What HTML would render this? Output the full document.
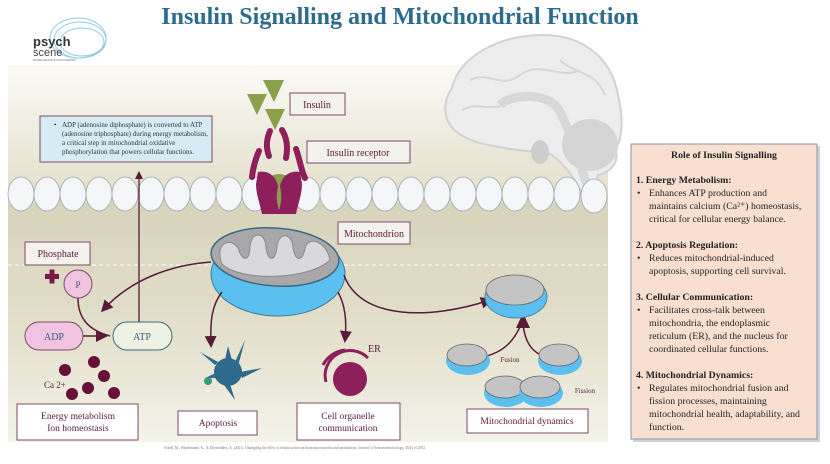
<!DOCTYPE html>
<html><head><meta charset="utf-8"><style>
html,body{margin:0;padding:0;background:#fff;}
body{width:830px;height:459px;overflow:hidden;font-family:"Liberation Serif",serif;}
</style></head><body>
<svg width="830" height="459" viewBox="0 0 830 459" xmlns="http://www.w3.org/2000/svg" font-family="Liberation Serif, serif">
<defs>
<linearGradient id="bg" x1="0" y1="0" x2="0" y2="1">
<stop offset="0" stop-color="#fbfaf6"/><stop offset="0.3" stop-color="#e6e3d0"/><stop offset="0.4" stop-color="#d9d5bd"/><stop offset="0.7" stop-color="#e2dfca"/><stop offset="1" stop-color="#f4f3ea"/>
</linearGradient>
<marker id="ah" markerWidth="8" markerHeight="8" refX="6" refY="4" orient="auto" markerUnits="userSpaceOnUse"><path d="M0,0 L8,4 L0,8 z" fill="#5a1a3a"/></marker>
<marker id="ahb" markerWidth="12" markerHeight="12" refX="9" refY="6" orient="auto" markerUnits="userSpaceOnUse"><path d="M0,0 L12,6 L0,12 z" fill="#5a1a3a"/></marker>
</defs>
<text x="400" y="24" text-anchor="middle" font-size="24" font-weight="bold" fill="#2d6b8d">Insulin Signalling and Mitochondrial Function</text>
<!-- logo -->
<g fill="none" stroke="#8fcbe6" stroke-width="1">
<ellipse cx="80" cy="40" rx="26" ry="18"/><ellipse cx="82" cy="42" rx="22" ry="14"/><ellipse cx="78" cy="38" rx="28" ry="20"/>
</g>
<text x="33" y="46" font-family="Liberation Sans, sans-serif" font-size="13" font-weight="bold" fill="#333">psych</text>
<text x="33" y="56" font-family="Liberation Sans, sans-serif" font-size="11" fill="#444">scene</text>
<text x="33" y="61" font-family="Liberation Sans, sans-serif" font-size="3" fill="#666">EXCELLENCE IN PSYCHIATRY</text>
<!-- panel -->
<rect x="8" y="65" width="600" height="377" fill="url(#bg)"/>
<rect x="8" y="195" width="600" height="40" fill="#d9d5bd"/>
<!-- brain -->
<g>
<path d="M452,88 C460,55 500,36 540,35 C585,34 612,60 618,95 C624,120 622,140 615,150 C620,160 612,172 598,175 L592,194 L582,194 C575,178 565,165 552,155 C540,150 520,152 505,148 C485,145 460,140 450,125 C442,112 445,98 452,88 Z" fill="#ededed" stroke="#d2d2d2" stroke-width="2"/>
<g fill="none" stroke="#d6d6d6" stroke-width="2">
<path d="M470,80 C490,70 500,90 520,75 C540,60 560,80 580,70"/>
<path d="M462,110 C480,100 495,115 510,100"/>
<path d="M560,60 C575,75 595,70 605,95"/>
</g>
<path d="M500,105 C510,95 540,92 555,105 C565,115 575,150 588,188" fill="none" stroke="#d8d8d8" stroke-width="9"/>
<ellipse cx="590" cy="145" rx="28" ry="26" fill="#d4d4d4"/>
<ellipse cx="540" cy="152" rx="9" ry="12" fill="#cdcdcd"/>
</g>
<!-- membrane -->
<g fill="#f4f6f7" stroke="#9aa8ae" stroke-width="0.8">
<ellipse cx="21" cy="194" rx="13" ry="17"/><ellipse cx="47" cy="194" rx="13" ry="17"/><ellipse cx="73" cy="194" rx="13" ry="17"/><ellipse cx="99" cy="194" rx="13" ry="17"/><ellipse cx="125" cy="194" rx="13" ry="17"/><ellipse cx="151" cy="194" rx="13" ry="17"/><ellipse cx="177" cy="194" rx="13" ry="17"/><ellipse cx="203" cy="194" rx="13" ry="17"/><ellipse cx="229" cy="194" rx="13" ry="17"/><ellipse cx="255" cy="194" rx="13" ry="17"/><ellipse cx="281" cy="194" rx="13" ry="17"/><ellipse cx="307" cy="194" rx="13" ry="17"/><ellipse cx="333" cy="194" rx="13" ry="17"/><ellipse cx="359" cy="194" rx="13" ry="17"/><ellipse cx="385" cy="194" rx="13" ry="17"/><ellipse cx="411" cy="194" rx="13" ry="17"/><ellipse cx="437" cy="194" rx="13" ry="17"/><ellipse cx="463" cy="194" rx="13" ry="17"/><ellipse cx="489" cy="194" rx="13" ry="17"/><ellipse cx="515" cy="194" rx="13" ry="17"/><ellipse cx="541" cy="194" rx="13" ry="17"/><ellipse cx="567" cy="194" rx="13" ry="17"/><ellipse cx="594" cy="196" rx="13" ry="17"/>
</g>
<line x1="8" y1="265" x2="608" y2="265" stroke="#fff" stroke-width="1" stroke-dasharray="4,3"/>
<!-- insulin & receptor -->
<g fill="#8ba04a">
<polygon points="263,80 284,80 274,102"/><polygon points="247,94 267,94 257,115"/><polygon points="265,109 285,109 275,130"/>
<circle cx="279" cy="191" r="17"/>
</g>
<g fill="none" stroke="#8c1f5c" stroke-width="6" stroke-linecap="round">
<path d="M270,131 C266,140 266,148 269,156"/>
<path d="M282,130 C287,138 288,148 286,158"/>
<path d="M259,151 C255,160 253,168 252,177"/>
<path d="M296,149 C300,160 301,170 305,178"/>
</g>
<g fill="#8c1f5c">
<path d="M258,172 C268,170 276,176 278,186 C276,196 276,204 281,214 L262,214 C260,204 256,194 256,184 Z"/>
<path d="M300,172 C290,170 282,176 280,186 C282,196 282,204 277,214 L296,214 C298,204 302,194 302,184 Z"/>
</g>
<!-- label boxes -->
<g fill="#f4f2ec" stroke="#7d4a66" stroke-width="1">
<rect x="290" y="93" width="55" height="22"/><rect x="307" y="141" width="103" height="22"/><rect x="338" y="222" width="72" height="22"/><rect x="25" y="242" width="65" height="23"/>
</g>
<g font-size="10" fill="#5a1a3a" text-anchor="middle">
<text x="317" y="108">Insulin</text><text x="358" y="156">Insulin receptor</text><text x="374" y="237">Mitochondrion</text><text x="58" y="257">Phosphate</text>
</g>
<!-- info box -->
<rect x="40" y="116" width="172" height="46" fill="#d5ecf4" stroke="#7d4a66" stroke-width="1"/>
<g font-size="7" fill="#333">
<text x="54" y="127">•</text>
<text x="62" y="127">ADP (adenosine diphosphate) is converted to ATP</text>
<text x="62" y="136">(adenosine triphosphate) during energy metabolism,</text>
<text x="62" y="145">a critical step in mitochondrial oxidative</text>
<text x="62" y="154">phosphorylation that powers cellular functions.</text>
</g>
<line x1="139" y1="322" x2="139" y2="173" stroke="#5a1a3a" stroke-width="1.3" marker-end="url(#ah)"/>
<!-- big mito -->
<ellipse cx="278" cy="274" rx="67" ry="42" fill="#5bc0ef" stroke="#3d7a95" stroke-width="1"/>
<ellipse cx="275" cy="257" rx="64" ry="29" fill="#a8a8aa" stroke="#3d6a80" stroke-width="1.5" transform="rotate(4 275 257)"/>
<path d="M222,264 C214,244 230,236 238,248 C242,262 250,262 250,246 C252,230 266,232 266,248 C268,262 276,262 277,246 C279,232 292,232 293,248 C295,262 303,262 305,248 C308,236 326,240 330,260 C310,280 240,282 222,264 Z" fill="#d9d9db" stroke="#8a8a8a" stroke-width="1"/>
<!-- arrows from mito -->
<g fill="none" stroke="#5a1a3a" stroke-width="1.5">
<path d="M211,262 C170,265 130,280 103,310" marker-end="url(#ahb)"/>
<path d="M222,292 C212,305 210,320 211,345" marker-end="url(#ahb)"/>
<path d="M338,292 C345,305 347,320 345,340" marker-end="url(#ahb)"/>
<path d="M344,275 C360,320 430,320 490,300" marker-end="url(#ahb)"/>
<path d="M78,298 C78,318 88,330 110,336"/>
<path d="M83,336 L105,336" marker-end="url(#ahb)"/>
<path d="M483,357 C505,352 515,340 523,320"/>
<path d="M546,357 C530,352 525,340 523,325"/>
</g>
<polygon points="516,328 523,313 530,328" fill="#5a1a3a"/>
<!-- phosphate -->
<rect x="45" y="274" width="14" height="5" fill="#7a1a4a"/><rect x="49.5" y="269.5" width="5" height="14" fill="#7a1a4a"/>
<circle cx="78" cy="284" r="14" fill="#f0c4e0" stroke="#7d4a66"/>
<text x="78" y="288" font-size="9" text-anchor="middle" fill="#4a4a7a">P</text>
<rect x="25" y="322" width="58" height="28" rx="14" fill="#f0c4e0" stroke="#7d4a66"/>
<text x="54" y="340" font-size="10" text-anchor="middle" fill="#3a5a7a">ADP</text>
<rect x="113" y="322" width="59" height="28" rx="14" fill="#eef2e2" stroke="#3d6a7a"/>
<text x="142" y="340" font-size="10" text-anchor="middle" fill="#3a5a7a">ATP</text>
<!-- Ca -->
<g fill="#6a1038">
<circle cx="65" cy="370" r="6"/><circle cx="94" cy="362" r="6"/><circle cx="104" cy="376" r="6"/><circle cx="88" cy="388" r="6"/><circle cx="72" cy="394" r="6"/><circle cx="114" cy="393" r="6"/>
</g>
<text x="44" y="388" font-size="9" fill="#5a1a3a">Ca 2+</text>
<!-- apoptosis cell -->
<g fill="#2d6a8c">
<circle cx="228" cy="372" r="14"/>
<path d="M215,365 L200,352 L218,362 Z M235,362 L245,340 L238,366 Z M240,372 L262,368 L242,378 Z M230,384 L235,400 L224,385 Z M218,378 L205,378 L218,372 Z M225,360 L228,346 L232,360 Z"/>
</g>
<circle cx="208" cy="381" r="4" fill="#3a9a7a"/>
<!-- ER -->
<circle cx="350" cy="379" r="17" fill="#8c1f5c"/>
<path d="M326,382 A25,25 0 0 1 368,358" fill="none" stroke="#8c1f5c" stroke-width="3"/>
<path d="M323,365 A28,28 0 0 1 345,350" fill="none" stroke="#8c1f5c" stroke-width="3"/>
<text x="368" y="352" font-size="10" fill="#5a1a3a">ER</text>
<!-- small mitos -->
<g stroke-width="0.8">
<ellipse cx="516" cy="297" rx="31" ry="21" fill="#5bc0ef" stroke="#3d7a95"/><ellipse cx="515" cy="290" rx="29" ry="15" fill="#c4c4c4" stroke="#666"/>
<ellipse cx="468" cy="361" rx="22" ry="14" fill="#5bc0ef"/><ellipse cx="467" cy="355" rx="20" ry="11" fill="#c4c4c4" stroke="#666"/>
<ellipse cx="560" cy="361" rx="22" ry="14" fill="#5bc0ef"/><ellipse cx="559" cy="355" rx="20" ry="11" fill="#c4c4c4" stroke="#666"/>
<ellipse cx="506" cy="393" rx="22" ry="14" fill="#5bc0ef"/><ellipse cx="505" cy="387" rx="20" ry="11" fill="#c4c4c4" stroke="#666"/>
<ellipse cx="541" cy="393" rx="22" ry="14" fill="#5bc0ef"/><ellipse cx="540" cy="387" rx="20" ry="11" fill="#c4c4c4" stroke="#666"/>
</g>
<text x="510" y="362" font-size="7" text-anchor="middle" fill="#5a1a3a">Fusion</text>
<text x="585" y="393" font-size="7" text-anchor="middle" fill="#5a1a3a">Fission</text>
<!-- bottom boxes -->
<g fill="#fff" stroke="#7d4a66" stroke-width="1">
<rect x="17" y="404" width="121" height="36"/><rect x="178" y="411" width="79" height="24"/><rect x="297" y="403" width="103" height="37"/><rect x="467" y="409" width="121" height="24"/>
</g>
<g font-size="9.5" fill="#5a1a3a" text-anchor="middle">
<text x="78" y="419">Energy metabolism</text><text x="78" y="431">Ion homeostasis</text>
<text x="218" y="426">Apoptosis</text>
<text x="348" y="419">Cell organelle</text><text x="348" y="431">communication</text>
<text x="527" y="424">Mitochondrial dynamics</text>
</g>
<text x="295" y="449" font-size="3.6" text-anchor="middle" fill="#777">Schell, M., Wardelmann, K., &amp; Kleinridders, A. (2021). Untangling the effect of insulin action on brain mitochondria and metabolism. Journal of Neuroendocrinology, 33(4), e12932.</text>
<!-- right box -->
<rect x="633" y="146" width="187" height="296" fill="#a0a8b0" opacity="0.5"/>
<rect x="631" y="144" width="186" height="295" fill="#f9dfd0" stroke="#8a96a4" stroke-width="1"/>
<g font-size="9.8" fill="#222">
<text x="724" y="158" text-anchor="middle" font-weight="bold">Role of Insulin Signalling</text>
<text x="636" y="183" font-weight="bold">1. Energy Metabolism:</text>
<text x="637" y="196">•</text><text x="649" y="196">Enhances ATP production and</text>
<text x="649" y="209">maintains calcium (Ca²⁺) homeostasis,</text>
<text x="649" y="222">critical for cellular energy balance.</text>
<text x="636" y="248" font-weight="bold">2. Apoptosis Regulation:</text>
<text x="637" y="261">•</text><text x="649" y="261">Reduces mitochondrial-induced</text>
<text x="649" y="274">apoptosis, supporting cell survival.</text>
<text x="636" y="300" font-weight="bold">3. Cellular Communication:</text>
<text x="637" y="313">•</text><text x="649" y="313">Facilitates cross-talk between</text>
<text x="649" y="326">mitochondria, the endoplasmic</text>
<text x="649" y="339">reticulum (ER), and the nucleus for</text>
<text x="649" y="352">coordinated cellular functions.</text>
<text x="636" y="378" font-weight="bold">4. Mitochondrial Dynamics:</text>
<text x="637" y="391">•</text><text x="649" y="391">Regulates mitochondrial fusion and</text>
<text x="649" y="404">fission processes, maintaining</text>
<text x="649" y="417">mitochondrial health, adaptability, and</text>
<text x="649" y="430">function.</text>
</g>
</svg>
</body></html>
